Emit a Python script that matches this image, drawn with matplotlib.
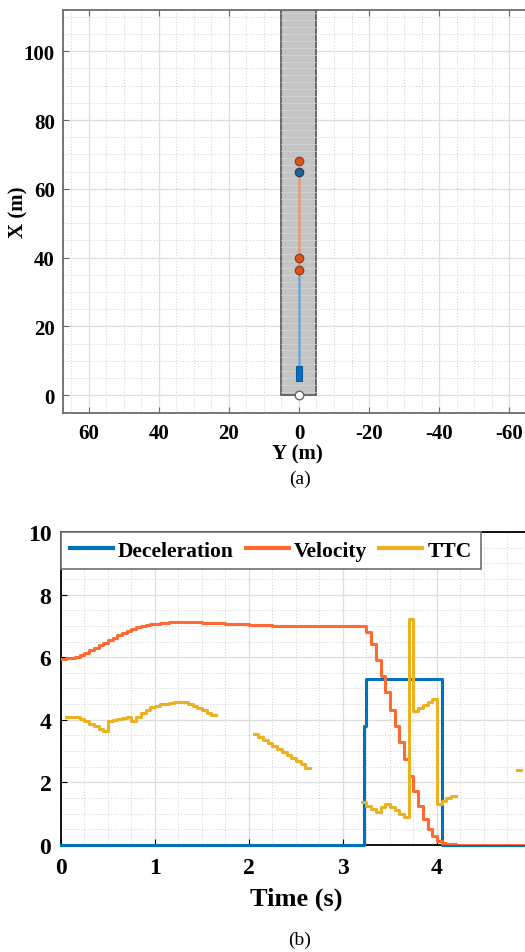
import numpy as np
import matplotlib.pyplot as plt
from matplotlib.patches import Rectangle
from matplotlib.ticker import MultipleLocator

plt.rcParams['font.family'] = ['Liberation Serif', 'DejaVu Serif']
plt.rcParams['font.weight'] = 'bold'
plt.rcParams['axes.unicode_minus'] = False

# ---- (a) scenario snapshot ----
road_half_width = 5.0
road_end = 120.0
lead_path_x = [36.5, 65.0]          # orange trajectory (X, m)
ego_path_x = [8.0, 36.5]            # blue trajectory (X, m)
orange_pts_x = [68.0, 40.0, 36.5]
blue_pts_x = [65.0]
car_x0, car_x1, car_w = 4.0, 8.5, 1.7
origin_x = 0.0

# ---- (b) time histories, dt = 0.05 s ----
dt = 0.05
velocity = [
    5.95, 5.96, 5.98, 6.02, 6.08, 6.15, 6.22, 6.30, 6.38, 6.46,
    6.54, 6.62, 6.70, 6.77, 6.84, 6.90, 6.95, 6.99, 7.02, 7.05,
    7.07, 7.09, 7.10, 7.11, 7.11, 7.12, 7.12, 7.12, 7.11, 7.11,
    7.10, 7.10, 7.09, 7.09, 7.08, 7.07, 7.07, 7.06, 7.05, 7.05,
    7.04, 7.03, 7.03, 7.02, 7.02, 7.01, 7.01, 7.01, 7.00, 7.00,
    7.00, 7.00, 7.00, 7.00, 7.00, 7.00, 7.00, 7.00, 7.00, 7.00,
    7.00, 7.00, 7.00, 7.00, 7.00, 6.80, 6.42, 5.90, 5.40, 4.90,
    4.30, 3.80, 3.30, 2.75, 2.20, 1.73, 1.25, 0.83, 0.50, 0.30,
    0.12, 0.05, 0.03, 0.02, 0.01, 0.01, 0.01, 0.01, 0.01, 0.01,
    0.01, 0.01, 0.01, 0.01, 0.01, 0.01, 0.01, 0.01, 0.01, 0.01,
    0.01,
]
nan = np.nan
ttc = [
    nan, 4.10, 4.10, 4.08, 4.02, 3.95, 3.88, 3.80, 3.72, 3.64,
    3.96, 3.99, 4.02, 4.05, 4.08, 3.97, 4.10, 4.22, 4.32, 4.40,
    4.45, 4.49, 4.52, 4.54, 4.56, 4.58, 4.57, 4.52, 4.45, 4.38,
    4.30, 4.22, 4.14, nan, nan, nan, nan, nan, nan, nan,
    nan, 3.54, 3.45, 3.35, 3.25, 3.16, 3.06, 2.97, 2.87, 2.78,
    2.68, 2.58, 2.45, nan, nan, nan, nan, nan, nan, nan,
    nan, nan, nan, nan, 1.37, 1.25, 1.15, 1.05, 1.22, 1.31,
    1.22, 1.12, 1.00, 0.89, 7.22, 4.28, 4.38, 4.48, 4.58, 4.66,
    1.31, 1.42, 1.50, 1.57, nan, nan, nan, nan, nan, nan,
    nan, nan, nan, nan, nan, nan, nan, 2.40, nan, nan,
    nan,
]
decel_t = [0.0, 3.22, 3.25, 4.05, 5.0]
decel = [0.0, 3.80, 5.30, 0.0, 0.0]

c_dec = '#0072BD'
c_vel = '#FF6A33'
c_ttc = '#EDB120'

fig = plt.figure(figsize=(5.25, 9.53), dpi=100)


def style_grid(ax, frame_color):
    ax.grid(True, which='major', color='#dedede', linewidth=0.9)
    ax.grid(True, which='minor', color='#cfcfcf', linestyle=(0, (1, 2)), linewidth=0.7)
    ax.set_axisbelow(True)
    ax.tick_params(which='both', direction='in', top=True, right=True, labelsize=14)
    ax.tick_params(which='minor', length=0)
    ax.tick_params(which='major', length=4, color=frame_color)
    for s in ax.spines.values():
        s.set_color(frame_color)
        s.set_linewidth(1.3)
    for lab in ax.get_xticklabels() + ax.get_yticklabels():
        lab.set_fontweight('bold')


# ---------------- (a) ----------------
ax1 = fig.add_axes([0.12, 0.5656, 0.899, 0.4229])
ax1.set_xlim(67.4, -67.4)
ax1.set_ylim(-5.2, 112)
ax1.xaxis.set_major_locator(MultipleLocator(20))
ax1.yaxis.set_major_locator(MultipleLocator(20))
ax1.xaxis.set_minor_locator(MultipleLocator(5))
ax1.yaxis.set_minor_locator(MultipleLocator(5))
style_grid(ax1, '#6b6b6b')
ax1.tick_params(axis='x', pad=7, labelsize=15)
ax1.tick_params(axis='y', pad=6, labelsize=15)

ax1.add_patch(Rectangle((-road_half_width, 0), 2 * road_half_width, road_end,
                        facecolor='#c4c4c4', edgecolor='#555555', linewidth=1.2, zorder=2))
for xs in np.arange(1.0, road_end, 2.0):
    ax1.plot([-road_half_width, road_half_width], [xs, xs], color='#d6d6d6',
             linewidth=0.5, zorder=2)

ax1.plot([0, 0], ego_path_x, color='#6fa6d6', linewidth=1.8, zorder=3)
ax1.plot([0, 0], lead_path_x, color='#e09a78', linewidth=1.8, zorder=3)
ax1.add_patch(Rectangle((-car_w / 2, car_x0), car_w, car_x1 - car_x0,
                        facecolor='#0a6cbf', edgecolor='#0a5a9f', linewidth=0.8, zorder=4))
ax1.scatter([0] * len(orange_pts_x), orange_pts_x, s=38, color='#D95319',
            edgecolor='#8a3a20', linewidth=0.8, zorder=5)
ax1.scatter([0] * len(blue_pts_x), blue_pts_x, s=38, color='#1f5f9a',
            edgecolor='#2a3a5a', linewidth=0.8, zorder=5)
ax1.scatter([0], [origin_x], s=38, color='white', edgecolor='#666666',
            linewidth=1.0, zorder=5)

ax1.set_xlabel('Y (m)', fontsize=15, fontweight='bold')
ax1.set_ylabel('X (m)', fontsize=15, fontweight='bold')
ax1.xaxis.set_label_coords(0.497, -0.076)
ax1.yaxis.set_label_coords(-0.074, 0.5)
fig.text(0.571, 0.497, '(a)', ha='center', va='center', fontsize=14, fontweight='normal')

# ---------------- (b) ----------------
t = np.arange(len(velocity)) * dt
ax2 = fig.add_axes([0.1162, 0.1123, 0.895, 0.3284])
ax2.set_xlim(0, 5)
ax2.set_ylim(0, 10)
ax2.xaxis.set_major_locator(MultipleLocator(1))
ax2.yaxis.set_major_locator(MultipleLocator(2))
ax2.xaxis.set_minor_locator(MultipleLocator(0.25))
ax2.yaxis.set_minor_locator(MultipleLocator(0.5))
style_grid(ax2, 'black')
ax2.set_xticks([0, 1, 2, 3, 4])
ax2.set_xticklabels(['0', '1', '2', '3', '4'], fontweight='bold')
ax2.tick_params(axis='x', labelsize=17, pad=9)
ax2.tick_params(axis='y', labelsize=17, pad=7)

ax2.plot(decel_t, decel, drawstyle='steps-post', color=c_dec, linewidth=2.2,
         label='Deceleration', zorder=3, clip_on=False)
ax2.plot(t, velocity, drawstyle='steps-post', color=c_vel, linewidth=2.2,
         label='Velocity', zorder=4)
ax2.plot(t, ttc, drawstyle='steps-post', color=c_ttc, linewidth=2.2,
         label='TTC', zorder=5)

leg = ax2.legend(loc='upper left', ncol=3, fontsize=15.5, frameon=True, fancybox=False,
                 borderaxespad=0.0, handlelength=2.0, columnspacing=0.55,
                 handletextpad=0.25, borderpad=0.4)
leg.get_frame().set_edgecolor('#707070')
leg.get_frame().set_linewidth(1.2)
leg.get_frame().set_alpha(1.0)
for line in leg.get_lines():
    line.set_linewidth(3.0)
for txt in leg.get_texts():
    txt.set_fontweight('bold')

ax2.set_xlabel('Time (s)', fontsize=19, fontweight='bold', labelpad=6)
fig.text(0.57, 0.004, '(b)', ha='center', va='bottom', fontsize=14, fontweight='normal')

fig.savefig('out.png', dpi=100)
